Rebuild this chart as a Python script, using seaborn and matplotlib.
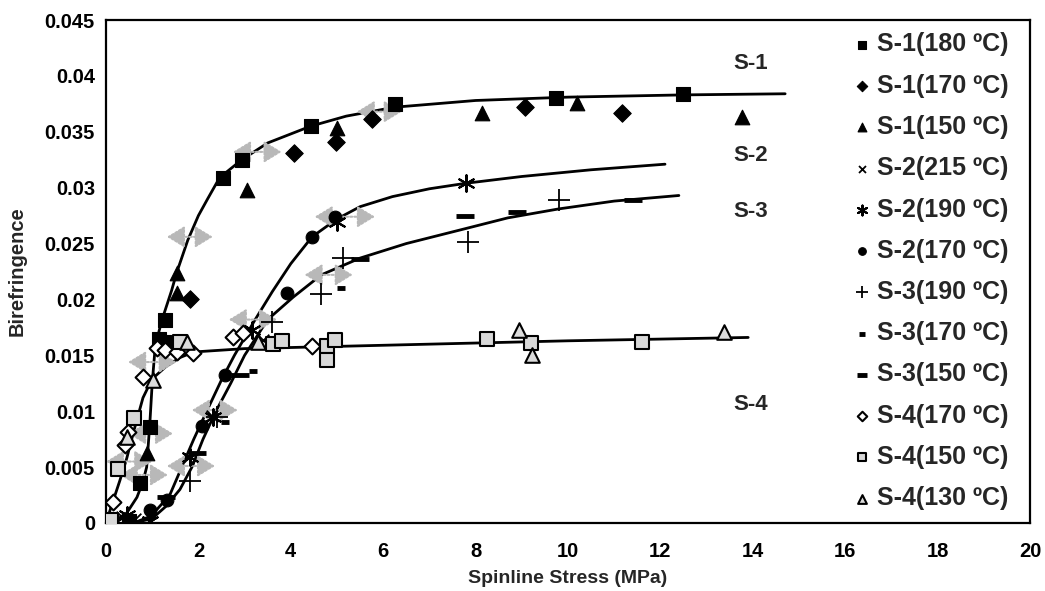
import matplotlib
matplotlib.use("Agg")
import matplotlib.pyplot as plt
import seaborn as sns
import pandas as pd

# measured points, one list pair per series
s1_180_x = [0.5, 0.74, 0.95, 1.15, 1.25, 1.28, 2.53, 2.94, 4.43, 6.25, 9.73, 12.48]
s1_180_y = [0.0002, 0.0036, 0.0086, 0.0165, 0.0162, 0.0182, 0.0309, 0.0325, 0.0355, 0.0375, 0.0380, 0.0384]
s1_170_x = [1.82, 4.06, 4.97, 5.75, 9.06, 11.16]
s1_170_y = [0.0200, 0.0331, 0.0341, 0.0361, 0.0372, 0.0367]
s1_150_x = [0.88, 1.53, 1.53, 3.05, 5.0, 8.13, 10.19, 13.77]
s1_150_y = [0.0063, 0.0224, 0.0206, 0.0298, 0.0353, 0.0367, 0.0376, 0.0363]
s2_215_x = [0.35, 0.62, 1.78, 2.3, 3.4]
s2_215_y = [0.0005, 0.0004, 0.0058, 0.0096, 0.0164]
s2_190_x = [0.45, 0.95, 1.82, 2.32, 3.15, 5.0, 7.8]
s2_190_y = [0.0007, 0.0002, 0.0059, 0.0095, 0.0173, 0.0269, 0.0304]
s2_170_x = [0.95, 1.31, 2.07, 2.57, 3.92, 4.46, 4.95]
s2_170_y = [0.0012, 0.0021, 0.0087, 0.0132, 0.0206, 0.0256, 0.0274]
s3_190_x = [1.82, 2.4, 3.6, 4.66, 5.13, 7.83, 9.8]
s3_190_y = [0.0038, 0.0095, 0.0180, 0.0205, 0.0237, 0.0251, 0.0289]
s3_170_x = [2.57, 3.18, 5.08]
s3_170_y = [0.0090, 0.0136, 0.0210]
s3_150_x = [1.3, 1.97, 2.9, 5.49, 7.76, 8.89, 11.4]
s3_150_y = [0.0023, 0.0063, 0.0132, 0.0236, 0.0275, 0.0278, 0.0289]
s4_170_x = [0.16, 0.41, 0.48, 0.8, 1.1, 1.28, 1.53, 1.88, 2.75, 2.97, 4.45]
s4_170_y = [0.0019, 0.0070, 0.0081, 0.0131, 0.0157, 0.0155, 0.0153, 0.0152, 0.0166, 0.0170, 0.0158]
s4_150_x = [0.1, 0.25, 0.61, 1.6, 3.61, 3.8, 4.78, 4.78, 4.95, 8.24, 9.19, 11.6]
s4_150_y = [0.0003, 0.0048, 0.0094, 0.0162, 0.0160, 0.0163, 0.0158, 0.0146, 0.0164, 0.0165, 0.0161, 0.0162]
s4_130_x = [0.45, 1.02, 1.75, 3.29, 8.95, 9.23, 13.38]
s4_130_y = [0.0077, 0.0128, 0.0162, 0.0162, 0.0173, 0.0150, 0.0171]

# fitted curves
fit_s1_x = [0, 0.23, 0.45, 0.67, 0.8, 0.88, 0.95, 1.0, 1.06, 1.15, 1.23, 1.42, 1.53, 1.77, 2.0,
            2.2, 2.46, 2.94, 3.5, 4.43, 5.2, 6.25, 8, 10, 12.5, 14.7]
fit_s1_y = [0, 0.0003, 0.0009, 0.0023, 0.0037, 0.005, 0.009, 0.0125, 0.0155, 0.0172, 0.0184, 0.0208,
            0.0224, 0.0253, 0.0275, 0.029, 0.0309, 0.0325, 0.034, 0.0355, 0.0364, 0.0372, 0.0378,
            0.0381, 0.0383, 0.0384]
fit_s2_x = [0.6, 0.9, 1.1, 1.38, 1.64, 1.9, 2.18, 2.5, 2.78, 3.2, 3.6, 4.0, 4.46, 5.0, 5.5, 6.2, 7.0,
            7.8, 9.0, 10.5, 12.1]
fit_s2_y = [0.0, 0.0005, 0.0012, 0.0025, 0.005, 0.0075, 0.010, 0.0128, 0.015, 0.018, 0.0207, 0.0232,
            0.0256, 0.0272, 0.0283, 0.0292, 0.0299, 0.0304, 0.031, 0.0316, 0.0321]
fit_s3_x = [0.6, 1.0, 1.3, 1.6, 1.86, 2.1, 2.38, 2.7, 3.0, 3.5, 4.05, 4.66, 5.5, 6.5, 7.65, 8.7, 9.8,
            11.0, 12.4]
fit_s3_y = [0.0, 0.0004, 0.0015, 0.003, 0.005, 0.0075, 0.010, 0.0125, 0.015, 0.0182, 0.0202, 0.0222,
            0.0237, 0.025, 0.0262, 0.0273, 0.0281, 0.0288, 0.0293]
fit_s4_x = [0, 0.1, 0.3, 0.45, 0.6, 0.8, 1.0, 1.3, 1.6, 1.9, 3, 6, 10, 13.9]
fit_s4_y = [0, 0.0013, 0.0038, 0.0058, 0.0082, 0.0112, 0.0129, 0.014, 0.0148, 0.0153, 0.0156, 0.0159,
            0.0163, 0.0166]

# gray double arrows: start x, end x, height
arrow_x0 = [1.32, 2.75, 5.43, 4.52, 4.3, 0.0, 0.48, 0.3, 0.48, 1.86, 1.32, 2.66]
arrow_x1 = [2.31, 3.8, 6.4, 5.82, 5.34, 1.0, 1.45, 1.34, 1.53, 2.85, 2.36, 3.7]
arrow_y = [0.0256, 0.0332, 0.0368, 0.0274, 0.0222, 0.0055, 0.0080, 0.0043, 0.0144, 0.0101, 0.0051, 0.0182]

curve_names = ["S-1", "S-2", "S-3", "S-4"]
curve_label_y = [0.0411, 0.0329, 0.0279, 0.0106]

sns.set_theme(style="white")
plt.rcParams["font.family"] = ["Liberation Sans", "DejaVu Sans"]
plt.rcParams["font.weight"] = "bold"

fig = plt.figure(figsize=(10.45, 5.91), dpi=100)
ax = fig.add_axes([106 / 1045, 68 / 591, 924 / 1045, 503 / 591])

for fx, fy in [(fit_s1_x, fit_s1_y), (fit_s2_x, fit_s2_y), (fit_s3_x, fit_s3_y), (fit_s4_x, fit_s4_y)]:
    sns.lineplot(x=fx, y=fy, ax=ax, color="black", linewidth=2.0, sort=False, estimator=None,
                 legend=False, zorder=2)

for x0, x1, y in zip(arrow_x0, arrow_x1, arrow_y):
    ax.annotate("", xy=(x1, y), xytext=(x0, y),
                arrowprops=dict(arrowstyle="<|-|>,head_length=0.9,head_width=0.55", color="#b8b8b8",
                                linestyle=(0, (1, 1)), linewidth=1.5, mutation_scale=12,
                                shrinkA=0, shrinkB=0),
                zorder=3)

series = [
    ("S-1(180 ºC)", s1_180_x, s1_180_y, dict(marker="s", s=95, color="black", edgecolor="black")),
    ("S-1(170 ºC)", s1_170_x, s1_170_y, dict(marker="D", s=80, color="black", edgecolor="black")),
    ("S-1(150 ºC)", s1_150_x, s1_150_y, dict(marker="^", s=110, color="black", edgecolor="black")),
    ("S-2(215 ºC)", s2_215_x, s2_215_y, dict(marker="x", s=70, color="black", linewidth=1.3)),
    ("S-2(190 ºC)", s2_190_x, s2_190_y, dict(marker=(6, 2, 0), s=140, color="black", linewidth=1.5)),
    ("S-2(170 ºC)", s2_170_x, s2_170_y, dict(marker="o", s=85, color="black", edgecolor="black")),
    ("S-3(190 ºC)", s3_190_x, s3_190_y, dict(marker="+", s=230, color="black", linewidth=1.3)),
    ("S-3(170 ºC)", s3_170_x, s3_170_y, dict(marker="_", s=40, color="black", linewidth=3.5)),
    ("S-3(150 ºC)", s3_150_x, s3_150_y, dict(marker="_", s=170, color="black", linewidth=3.5)),
    ("S-4(170 ºC)", s4_170_x, s4_170_y, dict(marker="D", s=65, color="white", edgecolor="black", linewidth=1.5)),
    ("S-4(150 ºC)", s4_150_x, s4_150_y, dict(marker="s", s=90, color="#d8d8d8", edgecolor="black", linewidth=1.5)),
    ("S-4(130 ºC)", s4_130_x, s4_130_y, dict(marker="^", s=110, color="#dcdcdc", edgecolor="black", linewidth=1.5)),
]

for name, xs, ys, kw in series:
    df = pd.DataFrame({"stress": xs, "biref": ys})
    sns.scatterplot(data=df, x="stress", y="biref", ax=ax, label=name, zorder=4, **kw)

for name, ly in zip(curve_names, curve_label_y):
    ax.text(13.95, ly, name, ha="center", va="center", fontsize=16, fontweight="bold")

ax.set_xlim(0, 20)
ax.set_ylim(0, 0.045)
ax.set_xticks(range(0, 21, 2))
yt = [0, 0.005, 0.01, 0.015, 0.02, 0.025, 0.03, 0.035, 0.04, 0.045]
ax.set_yticks(yt)
ax.set_yticklabels(["%g" % v for v in yt])
ax.tick_params(direction="in", length=4, width=1, labelsize=14.5, colors="black")
ax.tick_params(axis="x", pad=14)
ax.tick_params(axis="y", pad=8)
for lab in ax.get_xticklabels() + ax.get_yticklabels():
    lab.set_fontweight("bold")
for sp in ax.spines.values():
    sp.set_color("black")
    sp.set_linewidth(1.6)

ax.set_xlabel("Spinline Stress (MPa)", fontsize=14, fontweight="bold", labelpad=6)
ax.set_ylabel("Birefringence", fontsize=14.5, fontweight="bold", labelpad=13)

leg = ax.legend(loc="upper left", bbox_to_anchor=(0.791, 1.0), frameon=False, fontsize=18,
                labelspacing=0.69, handletextpad=0.1, handlelength=1.0, markerscale=0.6,
                borderaxespad=0.1)
for t in leg.get_texts():
    t.set_fontweight("bold")

fig.savefig("out.png", dpi=100)
